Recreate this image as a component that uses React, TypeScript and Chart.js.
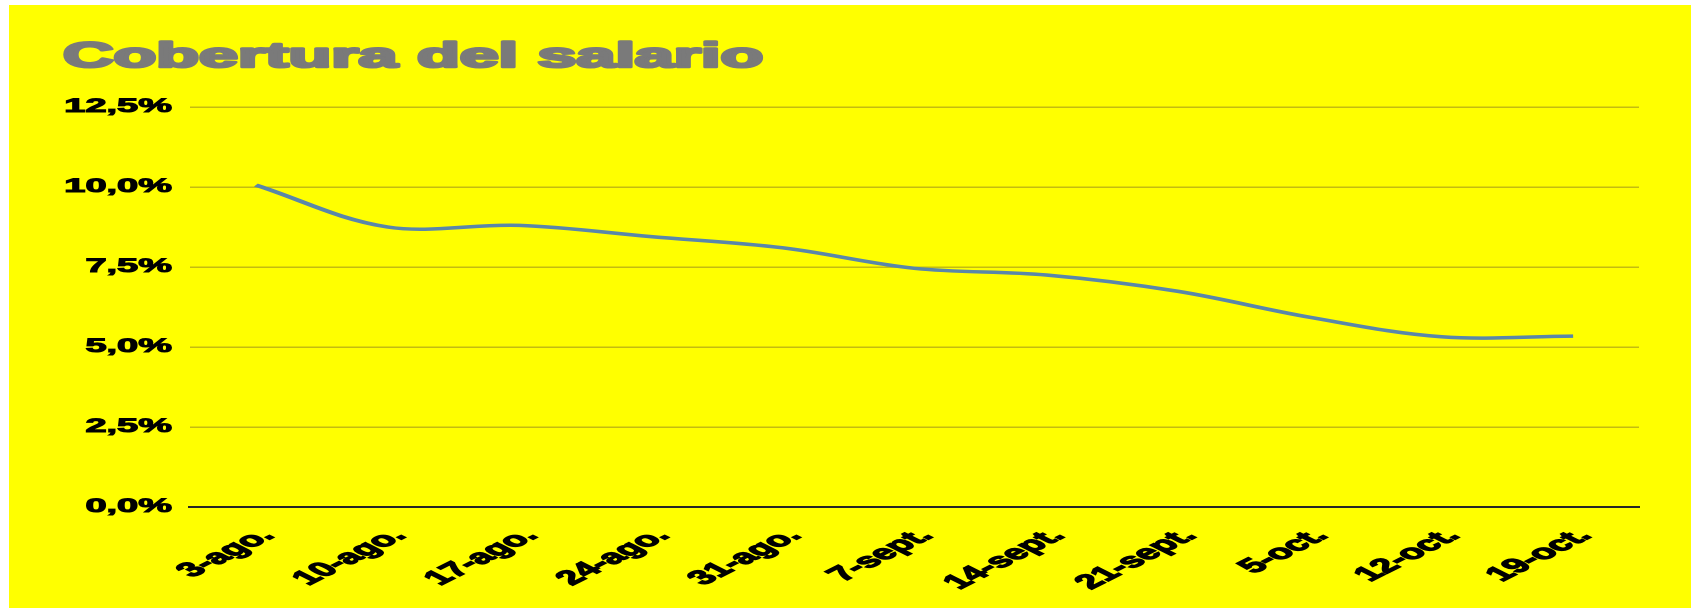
import React, { useEffect, useRef } from 'react';
import { Chart, registerables } from 'chart.js';

Chart.register(...registerables);

const TITLE = 'Cobertura del salario';
const categories = ['3-ago.', '10-ago.', '17-ago.', '24-ago.', '31-ago.', '7-sept.', '14-sept.', '21-sept.', '5-oct.', '12-oct.', '19-oct.'];
const coverage = [10.06, 8.75, 8.8, 8.45, 8.1, 7.46, 7.25, 6.74, 5.93, 5.32, 5.34];
const yTickValues = [0, 2.5, 5, 7.5, 10, 12.5];
const yTickLabels = ['0,0%', '2,5%', '5,0%', '7,5%', '10,0%', '12,5%'];

// The reference is a horizontally stretched picture: draw at half width, display at full width.
const STRETCH = 2;
const OUT_W = 1694;
const OUT_H = 614;
const W = OUT_W / STRETCH;
const H = OUT_H;

const FONT_FAMILY = '"Liberation Sans", Arial, sans-serif';

const framePlugin = {
  id: 'frame',
  beforeDraw(chart: any) {
    const ctx = chart.ctx;
    ctx.save();
    ctx.fillStyle = '#ffffff';
    ctx.fillRect(0, 0, chart.width, chart.height);
    ctx.fillStyle = '#ffff00';
    ctx.fillRect(4.5, 5, 841, 603);
    ctx.restore();
  },
  afterDraw(chart: any) {
    const ctx = chart.ctx;
    ctx.save();
    ctx.font = 'bold 35px ' + FONT_FAMILY;
    ctx.fillStyle = '#7a7a7a';
    ctx.strokeStyle = '#7a7a7a';
    ctx.lineWidth = 2.6;
    ctx.lineJoin = 'round';
    ctx.textAlign = 'left';
    ctx.textBaseline = 'alphabetic';
    ctx.fillText(TITLE, 31.5, 67);
    ctx.strokeText(TITLE, 31.5, 67);
    ctx.restore();
  },
};

export default function App() {
  const ref = useRef<HTMLCanvasElement | null>(null);

  useEffect(() => {
    if (!ref.current) return;
    const chart = new Chart(ref.current, {
      type: 'line',
      data: {
        labels: categories,
        datasets: [
          {
            label: 'Cobertura del salario',
            data: coverage,
            borderColor: '#5a87a9',
            borderWidth: 3.5,
            pointRadius: 0,
            tension: 0.35,
            fill: false,
          },
        ],
      },
      options: {
        responsive: false,
        animation: false,
        devicePixelRatio: 2,
        events: [],
        layout: { padding: { top: 107, left: 32, right: 27.5, bottom: 0 } },
        plugins: {
          legend: { display: false },
          title: { display: false },
          tooltip: { enabled: false },
        },
        scales: {
          x: {
            offset: true,
            grid: { display: false, drawTicks: false },
            border: { display: true, color: '#262626', width: 2 },
            ticks: {
              autoSkip: false,
              maxRotation: 45,
              minRotation: 45,
              padding: 17,
              labelOffset: 6,
              color: '#000000',
              textStrokeColor: '#000000',
              textStrokeWidth: 1.2,
              font: { family: FONT_FAMILY, size: 20, weight: 'bold' },
            },
            afterFit(scale: any) {
              scale.height = 107;
            },
          },
          y: {
            min: 0,
            max: 12.5,
            afterBuildTicks(scale: any) {
              scale.ticks = yTickValues.map((v) => ({ value: v }));
            },
            grid: { color: '#c4bc10', lineWidth: 1.5, drawTicks: false },
            border: { display: false },
            ticks: {
              padding: 9,
              color: '#000000',
              textStrokeColor: '#000000',
              textStrokeWidth: 1,
              font: { family: FONT_FAMILY, size: 19, weight: 'bold' },
              callback: (_v: any, i: number) => yTickLabels[i],
            },
            afterFit(scale: any) {
              scale.width = 63;
            },
          },
        },
      },
      plugins: [framePlugin],
    });
    return () => chart.destroy();
  }, []);

  return (
    <div style={{ position: 'absolute', left: 0, top: 0, width: OUT_W, height: OUT_H, background: '#ffffff' }}>
      <canvas ref={ref} width={W} height={H} style={{ width: OUT_W + 'px', height: OUT_H + 'px', display: 'block' }} />
    </div>
  );
}
